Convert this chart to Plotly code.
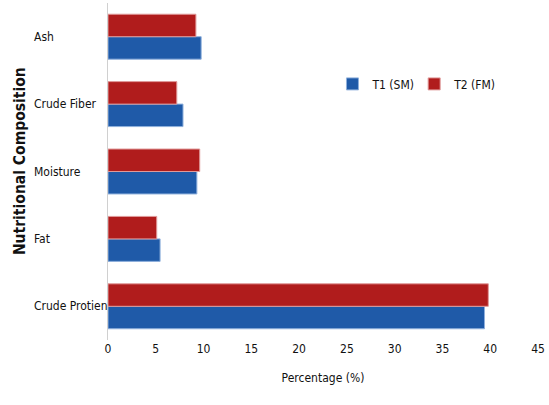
import plotly.graph_objects as go

categories = ["Ash", "Crude Fiber", "Moisture", "Fat", "Crude Protien"]
t1_sm = [9.75, 7.85, 9.3, 5.45, 39.4]
t2_fm = [9.2, 7.2, 9.6, 5.1, 39.8]
series_names = ["T1 (SM)", "T2 (FM)"]
x_ticks = [0, 5, 10, 15, 20, 25, 30, 35, 40, 45]

FONT = "DejaVu Sans Condensed, Liberation Sans Narrow, sans-serif"
FS = 12

# bottom-to-top order for plotting
cats_plot = categories[::-1]
fig = go.Figure()
fig.add_trace(go.Bar(
    y=cats_plot, x=t1_sm[::-1], orientation="h", name=series_names[0],
    marker=dict(color="#1f5aa8", line=dict(color="#8fb0dc", width=1)),
    legend="legend", showlegend=True,
))
fig.add_trace(go.Bar(
    y=cats_plot, x=t2_fm[::-1], orientation="h", name=series_names[1],
    marker=dict(color="#b01c1c", line=dict(color="#e09a9a", width=1)),
    legend="legend2", showlegend=True,
))

for c in categories:
    fig.add_annotation(x=-76 / 430, xref="paper", y=c, yref="y", text=c,
                       showarrow=False, xanchor="left",
                       font=dict(family=FONT, size=FS, color="#111"))

fig.add_annotation(x=-88 / 430, xref="paper", y=0.531, yref="paper",
                   text="<b>Nutritional Composition</b>", textangle=-90,
                   xanchor="center", yanchor="middle",
                   showarrow=False, font=dict(family=FONT, size=15.5, color="#111"))

leg_common = dict(orientation="h", y=0.76, xanchor="left", yanchor="middle",
                  font=dict(family=FONT, size=FS, color="#111"),
                  itemwidth=30, bgcolor="rgba(0,0,0,0)", visible=True)

fig.update_layout(
    width=549, height=405,
    showlegend=True,
    margin=dict(l=108, r=11, t=3, b=65, autoexpand=False),
    barmode="group", bargap=0.333, bargroupgap=0,
    plot_bgcolor="white", paper_bgcolor="white",
    font=dict(family=FONT, size=FS, color="#111"),
    legend=dict(x=0.522, **leg_common),
    legend2=dict(x=0.712, **leg_common),
    xaxis=dict(range=[0, 45], tickvals=x_ticks, showgrid=False, zeroline=False,
               showline=False, ticks="", automargin=False,
               tickfont=dict(family=FONT, size=FS),
               title=dict(text="Percentage (%)", font=dict(family=FONT, size=FS), standoff=18)),
    yaxis=dict(categoryorder="array", categoryarray=cats_plot, showticklabels=False,
               showgrid=False, zeroline=False, showline=True, linecolor="#d0d0d0",
               linewidth=1, ticks="", automargin=False),
)

fig.write_html("out.html", config={"displayModeBar": False},
               post_script="document.body.style.margin='0';")
